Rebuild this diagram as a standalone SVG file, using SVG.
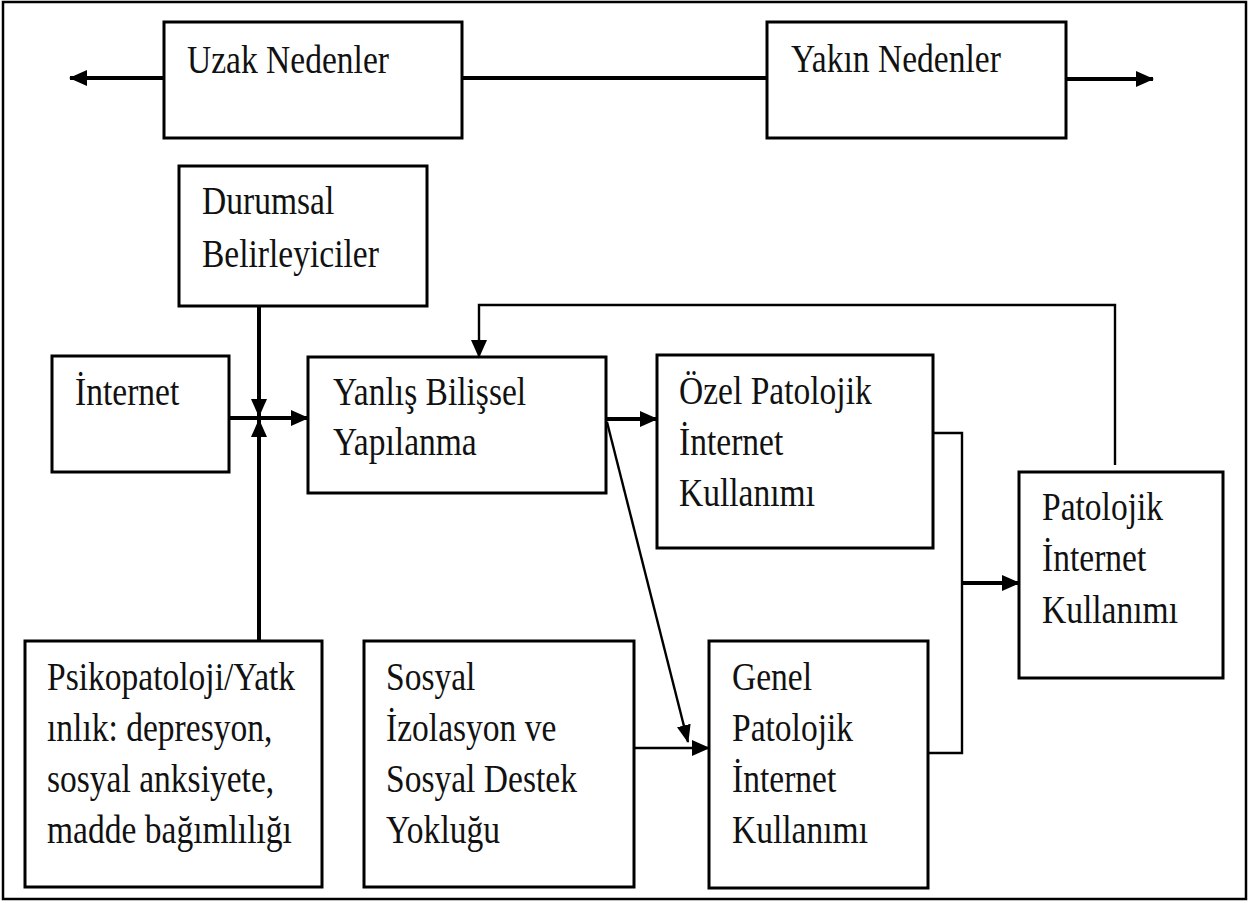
<svg xmlns="http://www.w3.org/2000/svg" width="1250" height="903" viewBox="0 0 1250 903">
<defs>
<style>
.box{fill:#fff;stroke:#000;stroke-width:3}
.t{font-family:"Liberation Serif","Times New Roman",serif;font-size:39px;fill:#111}
.c{fill:none;stroke:#000;stroke-width:4}
.thin{fill:none;stroke:#000;stroke-width:2.4}
</style>
<marker id="ah" markerWidth="18" markerHeight="16" refX="17" refY="8" orient="auto" markerUnits="userSpaceOnUse"><path d="M0,0 L18,8 L0,16 z" fill="#000"/></marker>
<marker id="ahs" markerWidth="18" markerHeight="14" refX="17" refY="7" orient="auto" markerUnits="userSpaceOnUse"><path d="M0,0 L18,7 L0,14 z" fill="#000"/></marker>
</defs>
<rect x="0" y="0" width="1250" height="903" fill="#fff"/>
<rect x="3" y="2" width="1243" height="897" fill="none" stroke="#000" stroke-width="2.5"/>
<g id="connectors">
<line class="c" x1="164" y1="78" x2="70" y2="78" marker-end="url(#ah)"/>
<line class="c" x1="462" y1="78" x2="767" y2="78"/>
<line class="c" x1="1066" y1="79" x2="1153" y2="79" marker-end="url(#ah)"/>
<line class="c" x1="259" y1="306" x2="259" y2="416" marker-end="url(#ah)"/>
<line class="c" x1="259" y1="641" x2="259" y2="420" marker-end="url(#ah)"/>
<line class="c" x1="229" y1="418" x2="308" y2="418" marker-end="url(#ah)"/>
<line class="c" x1="606" y1="419" x2="657" y2="419" marker-end="url(#ah)"/>
<line class="thin" x1="607" y1="422" x2="688" y2="742" marker-end="url(#ahs)"/>
<line class="thin" x1="634" y1="748" x2="709" y2="748" marker-end="url(#ah)"/>
<polyline class="thin" points="933,433 962,433 962,753 928,753"/>
<line class="c" x1="962" y1="583" x2="1019" y2="583" marker-end="url(#ah)"/>
<polyline class="thin" points="1115,465 1115,305 479,305 479,357" marker-end="url(#ah)"/>
</g>
<g id="uzak">
<rect class="box" x="164" y="22" width="298" height="116"/>
<text class="t" transform="translate(187,73) scale(0.86,1)">Uzak Nedenler</text>
</g>
<g id="yakin">
<rect class="box" x="767" y="22" width="299" height="116"/>
<text class="t" transform="translate(791,72) scale(0.86,1)">Yakın Nedenler</text>
</g>
<g id="durumsal">
<rect class="box" x="179" y="166" width="248" height="140"/>
<text class="t" transform="translate(202,214) scale(0.86,1)"><tspan x="0" y="0">Durumsal</tspan><tspan x="0" y="53">Belirleyiciler</tspan></text>
</g>
<g id="internet">
<rect class="box" x="52" y="356" width="177" height="116"/>
<text class="t" transform="translate(75,405) scale(0.86,1)">İnternet</text>
</g>
<g id="yanlis">
<rect class="box" x="308" y="357" width="298" height="136"/>
<text class="t" transform="translate(333,405) scale(0.86,1)"><tspan x="0" y="0">Yanlış Bilişsel</tspan><tspan x="0" y="50">Yapılanma</tspan></text>
</g>
<g id="ozel">
<rect class="box" x="657" y="355" width="276" height="193"/>
<text class="t" transform="translate(679,404) scale(0.86,1)"><tspan x="0" y="0">Özel Patolojik</tspan><tspan x="0" y="51">İnternet</tspan><tspan x="0" y="102">Kullanımı</tspan></text>
</g>
<g id="patolojik">
<rect class="box" x="1019" y="472" width="204" height="206"/>
<text class="t" transform="translate(1042,520) scale(0.86,1)"><tspan x="0" y="0">Patolojik</tspan><tspan x="0" y="51">İnternet</tspan><tspan x="0" y="103">Kullanımı</tspan></text>
</g>
<g id="psikopatoloji">
<rect class="box" x="25" y="641" width="297" height="246"/>
<text class="t" transform="translate(47,690) scale(0.86,1)"><tspan x="0" y="0">Psikopatoloji/Yatk</tspan><tspan x="0" y="51">ınlık: depresyon,</tspan><tspan x="0" y="102">sosyal anksiyete,</tspan><tspan x="0" y="153">madde bağımlılığı</tspan></text>
</g>
<g id="sosyal">
<rect class="box" x="364" y="641" width="270" height="246"/>
<text class="t" transform="translate(386,690) scale(0.86,1)"><tspan x="0" y="0">Sosyal</tspan><tspan x="0" y="51">İzolasyon ve</tspan><tspan x="0" y="102">Sosyal Destek</tspan><tspan x="0" y="153">Yokluğu</tspan></text>
</g>
<g id="genel">
<rect class="box" x="709" y="641" width="219" height="247"/>
<text class="t" transform="translate(732,690) scale(0.86,1)"><tspan x="0" y="0">Genel</tspan><tspan x="0" y="51">Patolojik</tspan><tspan x="0" y="102">İnternet</tspan><tspan x="0" y="153">Kullanımı</tspan></text>
</g>
</svg>
